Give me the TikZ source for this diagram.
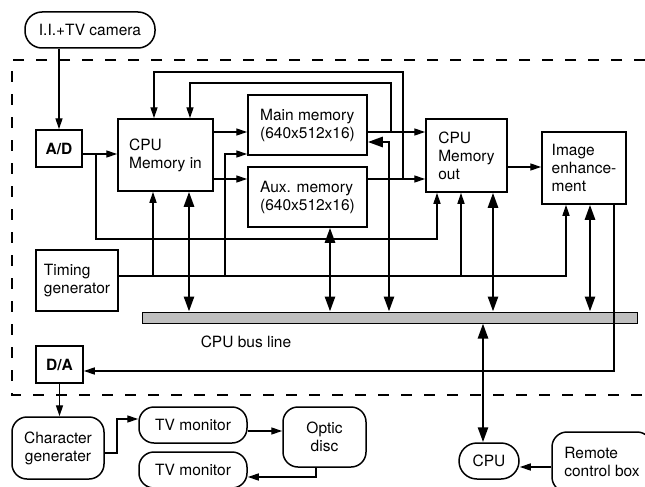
\documentclass[tikz,border=0pt]{standalone}
\usepackage{fontspec}
\setmainfont{TeX Gyre Heros}
\usetikzlibrary{arrows.meta,calc}
\begin{document}
\begin{tikzpicture}[x=1pt,y=-1pt,
  font=\fontsize{15.5}{18}\selectfont,
  box/.style={draw,line width=1.5pt,inner sep=0pt,align=left},
  rbox/.style={box,rounded corners=15pt,align=center},
  ln/.style={line width=1.4pt},
  arr/.style={line width=1.4pt,-{Triangle[length=11pt,width=7pt]}},
  thk/.style={line width=2.6pt,{Triangle[length=15pt,width=10pt]}-{Triangle[length=15pt,width=10pt]}},
  bndry/.style={line width=1.5pt,dash pattern=on 11pt off 12pt}]
\useasboundingbox (0,0) rectangle (645,487);
\clip (0,0) rectangle (645,487);
\fill[white] (0,0) rectangle (645,487);

% boundary
\draw[bndry] (645,60) -- (12,60) -- (12,395) -- (645,395);

% nodes
\node[rbox,rounded corners=17pt,minimum width=130,minimum height=36] (cam) at (90,30) {I.I.+TV camera};
\node[box,minimum width=46,minimum height=37,font=\fontsize{15.5}{18}\selectfont\bfseries] (ad) at (59,148.5) {A/D};
\node[box,minimum width=95,minimum height=72] (cin) at (165.5,155) {CPU\\Memory in};
\node[box,minimum width=119,minimum height=60] (mm) at (307.5,125) {Main memory\\(640x512x16)};
\node[box,minimum width=119,minimum height=60] (am) at (307.5,197) {Aux. memory\\(640x512x16)};
\node[box,minimum width=81,minimum height=73] (cout) at (466.5,155.5) {CPU\\Memory\\out};
\node[box,minimum width=84,minimum height=72] (ie) at (584,168) {Image\\enhance-\\ment};
\node[box,minimum width=82,minimum height=61] (tg) at (77,280.5) {Timing\\generator};
\node[draw,line width=1pt,fill=black!25,inner sep=0pt,minimum width=495,minimum height=11] (bus) at (389.5,317.5) {};
\node (busl) at (246,342) {CPU bus line};
\node[box,minimum width=47,minimum height=37,font=\fontsize{15.5}{18}\selectfont\bfseries] (da) at (59.5,364.5) {D/A};
\node[rbox,minimum width=92,minimum height=62] (cg) at (58,448) {Character\\generater};
\node[rbox,minimum width=108,minimum height=36] (tv1) at (193,425) {TV monitor};
\node[rbox,minimum width=83,minimum height=60] (od) at (324.5,437) {Optic\\disc};
\node[rbox,minimum width=108,minimum height=36] (tv2) at (193,470) {TV monitor};
\node[rbox,rounded corners=18pt,minimum width=60,minimum height=36] (cpu) at (489,461) {CPU};
\node[rbox,align=left,minimum width=100,minimum height=60] (rc) at (602,462) {Remote\\control box};

% connectors
\draw[arr] (cam.south -| ad.north) -- (ad.north);
\draw[arr] (ad.east |- 0,154) -- (cin.west |- 0,154);
\draw[arr] (ad.east |- 0,154) -| (96,239) -| (cout.south -| 437,0);
\draw[arr] (cin.east |- 0,132) -- (mm.west |- 0,132);
\draw[arr] (cin.east |- 0,179) -- (am.west |- 0,179);
\draw[arr] (mm.east |- 0,132) -- (cout.west |- 0,132);
\draw[arr] (am.east |- 0,179) -- (cout.west |- 0,179);
\draw[arr] (403,179) |- (154,72) -- (cin.north -| 154,0);
\draw[arr] (391,132) |- (190,83) -- (cin.north -| 190,0);
\draw[arr] (cout.east |- 0,167) -- (ie.west |- 0,167);
% timing
\draw[arr] (tg.east |- 0,276) -| (ie.south -| 566,0);
\draw[arr] (153,276) -- (cin.south -| 153,0);
\draw[arr] (225,276) |- (mm.west |- 0,154);
\draw[arr] (461,276) -- (cout.south -| 461,0);
% bus
\draw[thk] (cin.south -| 189,0) -- (bus.north -| 189,0);
\draw[thk] (am.south -| 330,0) -- (bus.north -| 330,0);
\draw[thk] (bus.north -| 389,0) |- (mm.east |- 0,142);
\draw[thk] (cout.south -| 493,0) -- (bus.north -| 493,0);
\draw[thk] (ie.south -| 590,0) -- (bus.north -| 590,0);
\draw[thk] (bus.south -| 483,0) -- (cpu.north -| 483,0);
% output
\draw[arr] (ie.south -| 614,0) |- (da.east |- 0,371);
\draw[arr] (da.south) -- (cg.north -| da.south);
\draw[arr] (cg.east |- 0,453) -| (117,419) -- (tv1.west |- 0,419);
\draw[arr] (tv1.east |- 0,431) -- (od.west |- 0,431);
\draw[arr] (od.south -| 316,0) |- (tv2.east |- 0,477);
\draw[arr] (rc.west |- 0,467) -- (cpu.east |- 0,467);
\end{tikzpicture}
\end{document}
